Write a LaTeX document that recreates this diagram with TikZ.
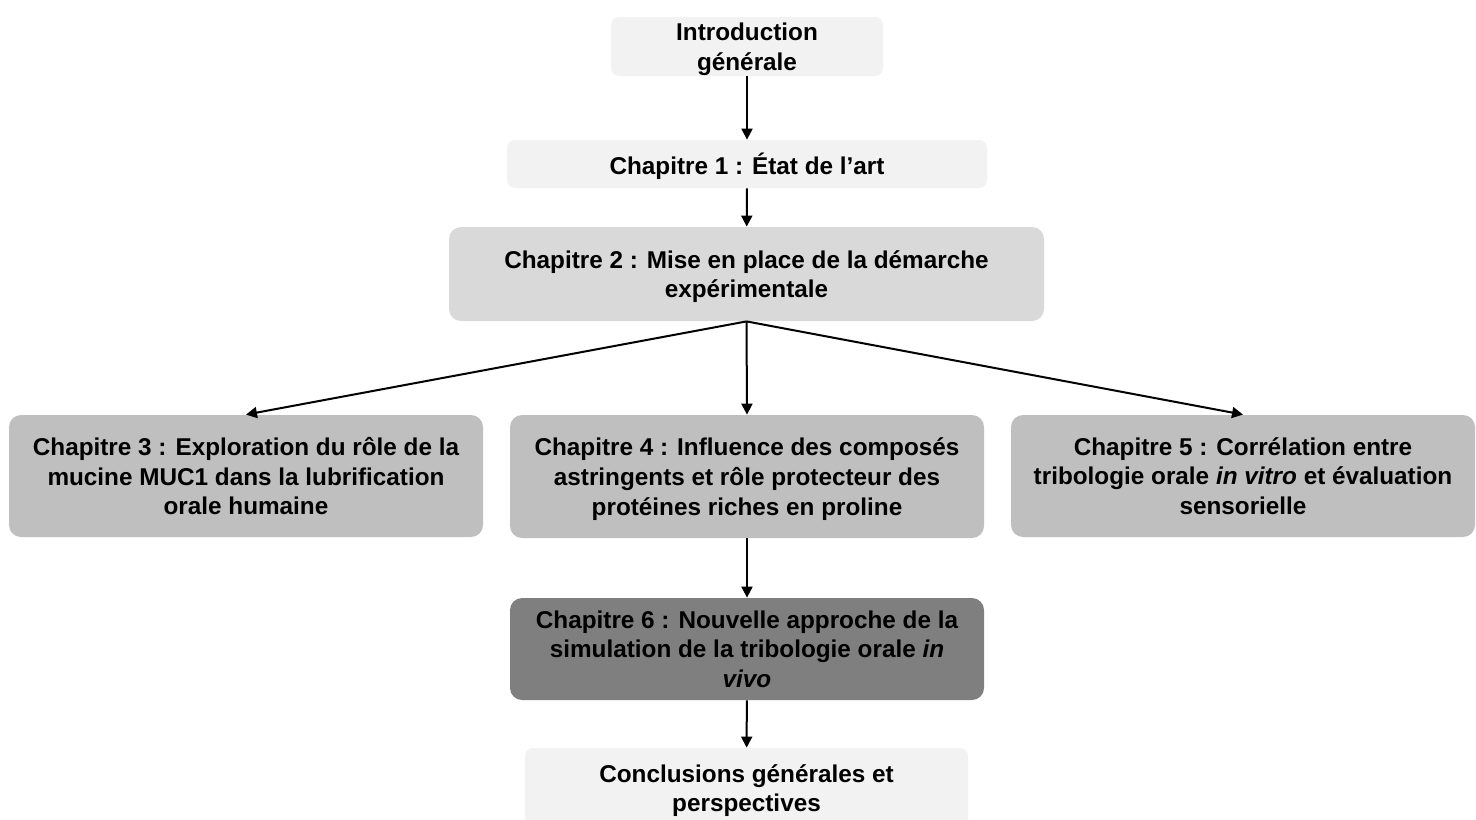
\documentclass[tikz,border=0pt]{standalone}
\usepackage{fontspec}
\setmainfont{Liberation Sans}
\usepackage{xcolor}
\usetikzlibrary{positioning,arrows.meta}

\definecolor{boxlight}{HTML}{F2F2F2}
\definecolor{boxmid}{HTML}{D9D9D9}
\definecolor{boxgray}{HTML}{BFBFBF}
\definecolor{boxdark}{HTML}{7F7F7F}

\tikzset{
    box/.style={rounded corners=6pt, align=center, inner sep=0pt, text depth=0pt,
        font=\fontsize{12.15}{14.9}\selectfont\bfseries},
    link/.style={-{Triangle[length=5.5pt,width=5.5pt]}, line width=1pt}
}

\begin{document}
\begin{tikzpicture}[x=0.5pt, y=-0.5pt]
    \useasboundingbox (0,0) rectangle (1476,819);
    \clip (0,0) rectangle (1476,819);

    % top of the plan
    \node[box, fill=boxlight, rounded corners=4pt, minimum width=136pt, minimum height=29.5pt] (intro) at (747,46.5) {Introduction\\générale};
    \node[box, fill=boxlight, rounded corners=4pt, minimum width=240pt, minimum height=24pt] (ch1) at (747,164) {Chapitre 1 : État de l’art};
    \node[box, fill=boxmid, minimum width=297.5pt, minimum height=47pt] (ch2) at (746.5,274) {Chapitre 2 : Mise en place de la démarche\\expérimentale};

    % the three study chapters
    \node[box, fill=boxgray, minimum width=237pt, minimum height=61pt] (ch3) at (246,476) {Chapitre 3 : Exploration du rôle de la\\mucine MUC1 dans la lubrification\\orale humaine};
    \node[box, fill=boxgray, minimum width=237pt, minimum height=61.5pt] (ch4) at (747,476.5) {Chapitre 4 : Influence des composés\\astringents et rôle protecteur des\\protéines riches en proline};
    \node[box, fill=boxgray, minimum width=232pt, minimum height=61pt] (ch5) at (1243,476) {Chapitre 5 : Corrélation entre\\tribologie orale \textit{in vitro} et évaluation\\sensorielle};

    % bottom of the plan
    \node[box, fill=boxdark, minimum width=237pt, minimum height=51pt] (ch6) at (747,649) {Chapitre 6 : Nouvelle approche de la\\simulation de la tribologie orale \textit{in}\\\textit{vivo}};
    \node[box, fill=boxlight, rounded corners=4pt, minimum width=221.5pt, minimum height=40pt] (concl) at (746.5,788) {Conclusions générales et\\perspectives};

    \draw[link] (intro) -- (ch1);
    \draw[link] (ch1) -- (ch2);
    \draw[link] (ch2.south) -- (ch3.north);
    \draw[link] (ch2.south) -- (ch4.north);
    \draw[link] (ch2.south) -- (ch5.north);
    \draw[link] (ch4) -- (ch6);
    \draw[link] (ch6) -- (concl);
\end{tikzpicture}
\end{document}
